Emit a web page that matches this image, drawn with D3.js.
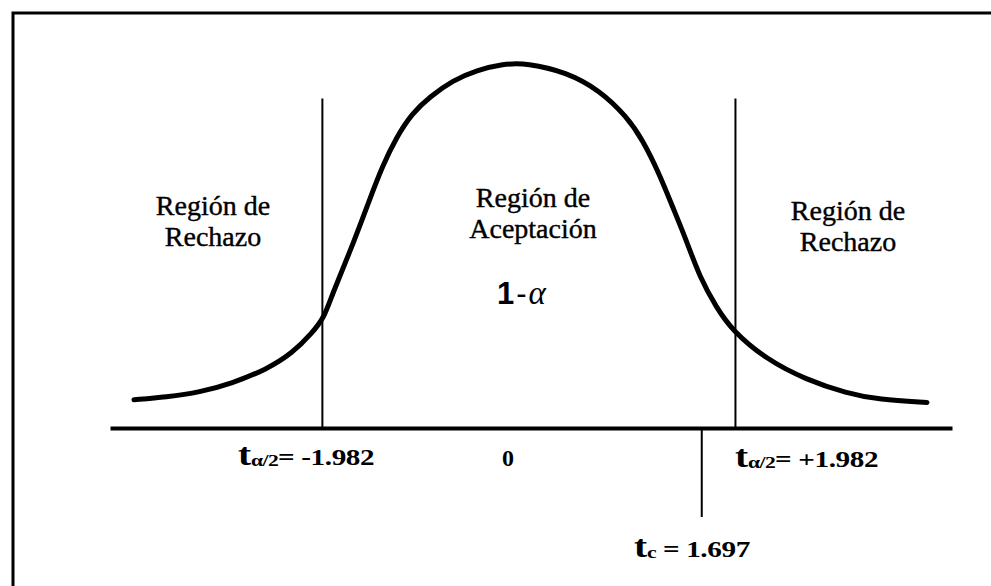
<!DOCTYPE html>
<html>
<head>
<meta charset="utf-8">
<script src="https://cdn.jsdelivr.net/npm/d3@7"></script>
<style>
  html, body { margin: 0; padding: 0; background: #fff; }
  svg { display: block; }
</style>
</head>
<body>
<svg id="chart" width="991" height="586"></svg>
<script>
// ---- Data ----
// Curve (t value, density height) sampled along the drawn bell curve
const curveT = [-3.79, -3.48, -3.16, -2.85, -2.52, -2.27, -2.08, -1.96, -1.89, -1.71,
                -1.53, -1.41, -1.27, -1.12, -0.95, -0.73, -0.50, -0.25, -0.02, 0.36,
                0.68, 0.94, 1.09, 1.25, 1.38, 1.51, 1.64, 1.80, 1.95, 2.28,
                2.66, 3.05, 3.36, 3.82];
const curveY = [0.031, 0.034, 0.039, 0.049, 0.064, 0.082, 0.104, 0.122, 0.146, 0.195,
                0.250, 0.286, 0.319, 0.345, 0.363, 0.381, 0.392, 0.399, 0.400, 0.390,
                0.370, 0.341, 0.316, 0.279, 0.242, 0.206, 0.165, 0.132, 0.107, 0.075,
                0.053, 0.038, 0.031, 0.028];
// Critical values and calculated statistic
const criticalValues = [-1.982, 1.982];
const criticalTop = 0.361;
const tCalc = 1.697;
const criticalLabels = ["= -1.982", "= +1.982"];
const tCalcLabel = "= 1.697";
const centerLabel = "0";
const regionLabels = [
  ["Región de", "Rechazo"],
  ["Región de", "Aceptación"],
  ["Región de", "Rechazo"]
];
const confidenceLabel = ["1", "-", "α"];

// ---- Scales ----
const svg = d3.select("#chart");
const x = d3.scaleLinear().domain([-4.02, 4.06]).range([110, 952]);
const y = d3.scaleLinear().domain([0, 0.4]).range([428, 63]);

// Frame (top and left border)
svg.append("path")
  .attr("d", "M13,586 L13,13 L991,13")
  .attr("fill", "none")
  .attr("stroke", "#000")
  .attr("stroke-width", 3);

// Horizontal axis (no ticks)
const axisG = svg.append("g")
  .attr("transform", `translate(0,${y(0)})`)
  .call(d3.axisBottom(x).tickValues([]).tickSizeOuter(0));
axisG.select(".domain").attr("stroke", "#000").attr("stroke-width", 4);

// Critical value lines
svg.selectAll("line.crit")
  .data(criticalValues)
  .enter().append("line")
  .attr("class", "crit")
  .attr("x1", d => x(d)).attr("x2", d => x(d))
  .attr("y1", y(criticalTop)).attr("y2", y(0))
  .attr("stroke", "#000").attr("stroke-width", 2);

// t calculated tick
svg.append("line")
  .attr("x1", x(tCalc) - 4).attr("x2", x(tCalc) - 4)
  .attr("y1", y(0)).attr("y2", y(0) + 89)
  .attr("stroke", "#000").attr("stroke-width", 2);

// Bell curve
const pts = curveT.map((t, i) => [t, curveY[i]]);
const line = d3.line()
  .x(d => x(d[0]))
  .y(d => y(d[1]))
  .curve(d3.curveBasis);
svg.append("path")
  .datum(pts)
  .attr("d", line)
  .attr("fill", "none")
  .attr("stroke", "#000")
  .attr("stroke-width", 5)
  .attr("stroke-linecap", "round");

// Region labels
const serif = "'Liberation Serif', 'Times New Roman', serif";
const regionPos = [[213, 215], [533, 207], [848, 220]];
regionLabels.forEach((lines, i) => {
  const t = svg.append("text")
    .attr("x", regionPos[i][0]).attr("y", regionPos[i][1])
    .attr("text-anchor", "middle")
    .attr("font-family", serif)
    .attr("font-size", 28)
    .attr("fill", "#000")
    .attr("stroke", "#000")
    .attr("stroke-width", 0.4);
  lines.forEach((s, j) => {
    t.append("tspan").attr("x", regionPos[i][0]).attr("dy", j === 0 ? 0 : 31).text(s);
  });
});

// 1-alpha
const ca = svg.append("text")
  .attr("x", 497).attr("y", 304)
  .attr("fill", "#000");
ca.append("tspan").attr("font-family", "'Liberation Sans', Arial, sans-serif")
  .attr("font-weight", "bold").attr("font-size", 31).text(confidenceLabel[0]);
ca.append("tspan").attr("font-family", "'Liberation Sans', Arial, sans-serif")
  .attr("font-size", 31).attr("dx", 2).text(confidenceLabel[1]);
ca.append("tspan").attr("font-family", serif)
  .attr("font-style", "italic").attr("font-size", 33).attr("dx", 2).text(confidenceLabel[2]);

// Critical labels (bold, horizontally stretched like the scan)
function tLabel(xPos, yPos, sub, rest) {
  const g = svg.append("g").attr("transform", `translate(${xPos},${yPos}) scale(1.27,1)`);
  const t = g.append("text")
    .attr("x", 0).attr("y", 0)
    .attr("font-family", serif)
    .attr("font-weight", "bold")
    .attr("fill", "#000");
  t.append("tspan").attr("font-size", 31).text("t");
  t.append("tspan").attr("font-size", 17).attr("dy", 1).attr("letter-spacing", -0.5).text(sub);
  t.append("tspan").attr("font-size", 23).attr("dy", -1).attr("letter-spacing", -0.3).text(rest);
}
tLabel(238, 465, "α/2", criticalLabels[0]);
tLabel(735, 467, "α/2", criticalLabels[1]);
tLabel(634, 557, "c", " " + tCalcLabel);

// Center label
svg.append("text")
  .attr("x", x(0) - 21).attr("y", 466)
  .attr("text-anchor", "middle")
  .attr("font-family", serif)
  .attr("font-weight", "bold")
  .attr("font-size", 24)
  .attr("fill", "#000")
  .text(centerLabel);
</script>
</body>
</html>
